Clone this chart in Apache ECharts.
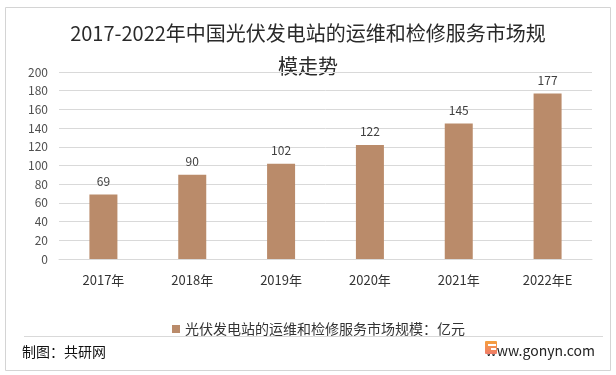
<!DOCTYPE html>
<html>
<head>
<meta charset="utf-8">
<script src="https://cdn.jsdelivr.net/npm/echarts@6/dist/echarts.min.js"></script>
<style>
html,body{margin:0;padding:0;background:#fff;}
#c{width:616px;height:375px;}
</style>
</head>
<body>
<div id="c"></div>
<script>
var categories = ['2017年', '2018年', '2019年', '2020年', '2021年', '2022年E'];
var values = [69, 90, 102, 122, 145, 177];
var seriesName = '光伏发电站的运维和检修服务市场规模：亿元';
var titleText = '2017-2022年中国光伏发电站的运维和检修服务市场规\n模走势';
var yMin = 0, yMax = 200, yInterval = 20;

var FONT = '"Noto Sans CJK SC", "Noto Sans", sans-serif';
var chart = echarts.init(document.getElementById('c'), null, {renderer: 'canvas'});
chart.setOption({
  backgroundColor: '#fff',
  animation: false,
  textStyle: {fontFamily: FONT},
  grid: {left: 59, right: 24, top: 72, bottom: 116, containLabel: false},
  legend: {
    data: [seriesName],
    left: 167,
    top: 317,
    icon: 'rect',
    itemWidth: 8,
    itemHeight: 8,
    itemGap: 6,
    textStyle: {fontSize: 14, color: '#333', fontFamily: FONT}
  },
  xAxis: {
    type: 'category',
    data: categories,
    axisLine: {lineStyle: {color: '#d9d9d9'}},
    axisTick: {show: false},
    axisLabel: {fontSize: 13, color: '#333', margin: 15, fontFamily: FONT}
  },
  yAxis: {
    type: 'value',
    min: yMin, max: yMax, interval: yInterval,
    axisLine: {show: false},
    axisTick: {show: false},
    splitLine: {lineStyle: {color: '#d9d9d9'}},
    axisLabel: {fontSize: 12, color: '#505050', margin: 11, fontFamily: FONT}
  },
  series: [{
    name: seriesName,
    type: 'bar',
    data: values,
    barWidth: 28,
    itemStyle: {color: '#BA8B6A'},
    label: {show: true, position: 'top', distance: 7, fontSize: 12, color: '#404040', fontFamily: FONT}
  }],
  graphic: [
    {type: 'rect', silent: true, shape: {x: 5.5, y: 7.5, width: 605, height: 363},
     style: {fill: 'none', stroke: '#d4d4d4', lineWidth: 1}},
    {type: 'text', silent: true, x: 308, y: 17,
     style: {text: titleText, align: 'center', verticalAlign: 'top', fontSize: 20, lineHeight: 33,
             fill: '#2a2a2a', fontFamily: FONT}},
    {type: 'line', silent: true, shape: {x1: 24, y1: 336.5, x2: 603, y2: 336.5},
     style: {stroke: '#d9d9d9', lineWidth: 1}},
    {type: 'text', silent: true, x: 22, y: 352,
     style: {text: '制图：共研网', verticalAlign: 'middle', fontSize: 14, fill: '#111', fontFamily: FONT}},
    {type: 'text', silent: true, x: 595, y: 351,
     style: {text: 'www.gonyn.com', align: 'right', verticalAlign: 'middle', fontSize: 14, fill: '#222', fontFamily: FONT}},
    {type: 'rect', silent: true, shape: {x: 485, y: 341, width: 12, height: 13, r: 1},
     style: {fill: new echarts.graphic.LinearGradient(0, 0, 0, 1, [
       {offset: 0, color: '#F5A03C'}, {offset: 1, color: '#F07C6A'}])}},
    {type: 'rect', silent: true, shape: {x: 488, y: 344, width: 8, height: 2},
     style: {fill: '#fff'}},
    {type: 'rect', silent: true, shape: {x: 491, y: 348, width: 5, height: 2},
     style: {fill: '#fff'}}
  ]
});
</script>
</body>
</html>
